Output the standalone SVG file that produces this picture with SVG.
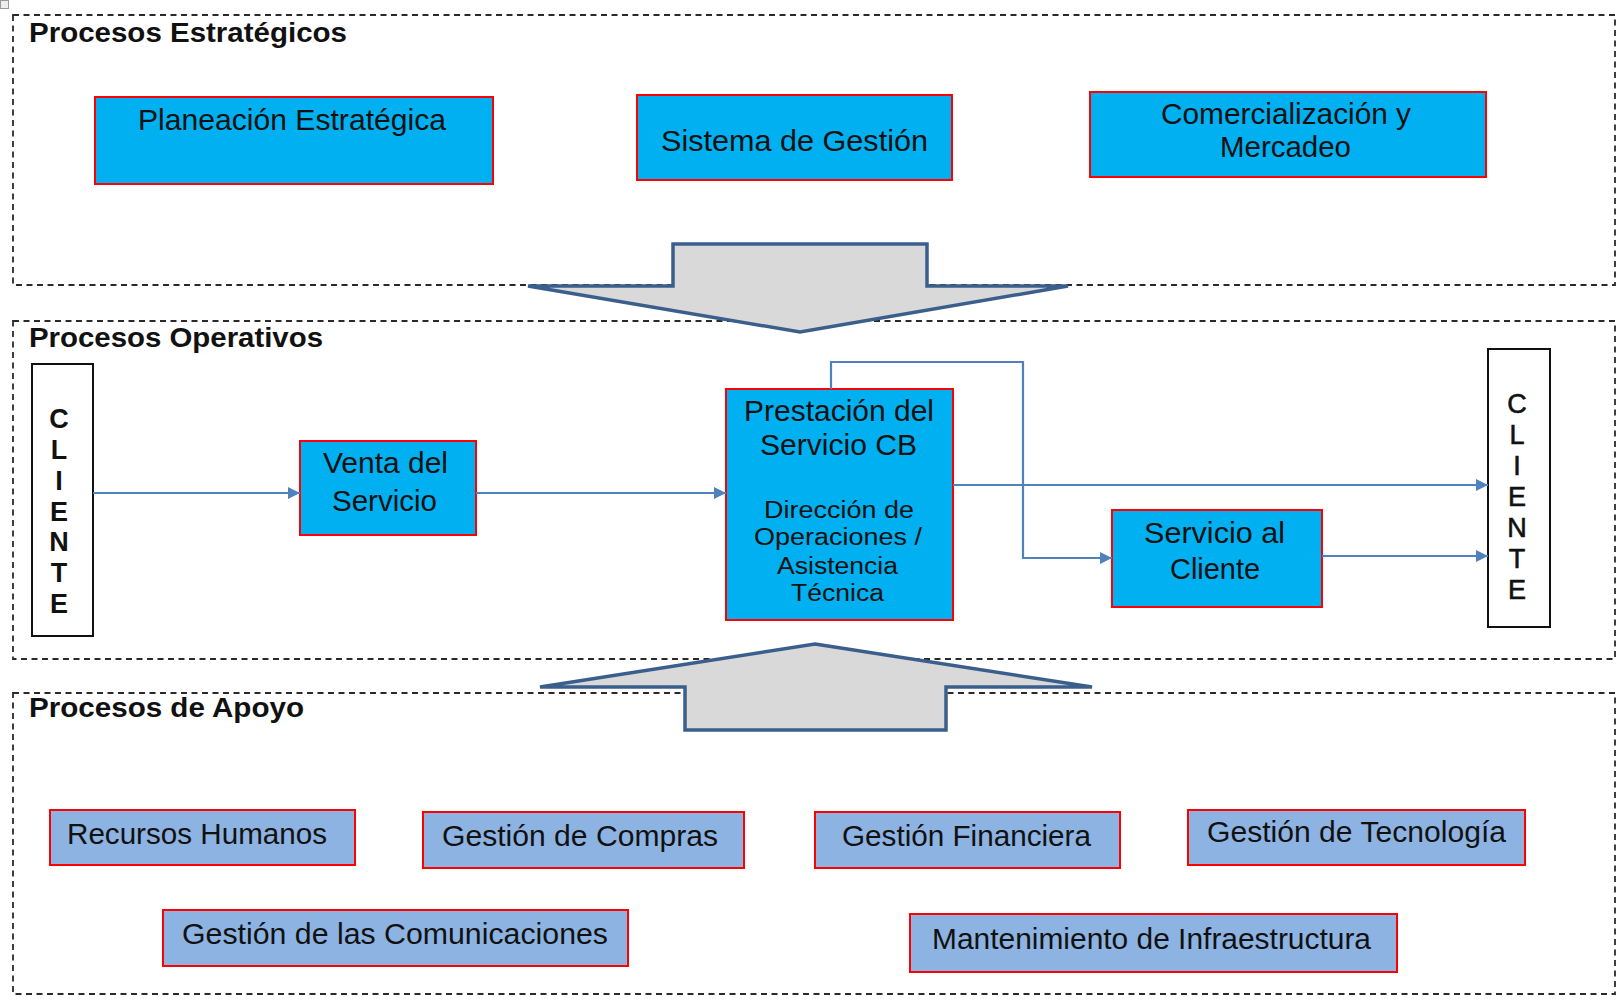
<svg xmlns="http://www.w3.org/2000/svg" width="1618" height="1005" viewBox="0 0 1618 1005">
  <style>
    .zone { fill: none; stroke: #2a2a2a; stroke-width: 1.8; stroke-dasharray: 6 4.5; }
    .ztitle { font-family: "Liberation Sans", Arial, sans-serif; font-weight: bold; font-size: 27px; fill: #111; }
    .main { fill: #00B0F0; stroke: #FF0000; stroke-width: 2; }
    .support { fill: #8DB3E2; stroke: #FF0000; stroke-width: 2; }
    .client { fill: #fff; stroke: #111; stroke-width: 2; }
    .lbl { font-family: "Liberation Sans", Arial, sans-serif; font-size: 30px; fill: #111; }
    .sub { font-family: "Liberation Sans", Arial, sans-serif; font-size: 23px; fill: #111; }
    .cl { font-family: "Liberation Sans", Arial, sans-serif; font-size: 27px; fill: #111; text-anchor: middle; }
    .big { fill: #D9D9D9; stroke: #3A5F8C; stroke-width: 3.5; stroke-linejoin: miter; }
    .link { fill: none; stroke: #4F81BD; stroke-width: 2.2; marker-end: url(#tip); }
  </style>
  <defs>
    <marker id="tip" viewBox="0 0 10 10" refX="10" refY="5" markerWidth="14" markerHeight="12" markerUnits="userSpaceOnUse" orient="auto">
      <path d="M0,0 L10,5 L0,10 z" fill="#4F81BD"/>
    </marker>
  </defs>

  <rect width="1618" height="1005" fill="#fff"/>
  <rect x="0.5" y="0.5" width="8" height="8" fill="#eee" stroke="#999" stroke-width="1"/>

  <!-- process zones -->
  <g id="zones">
    <rect class="zone" x="13" y="15" width="1602" height="270"/>
    <rect class="zone" x="13" y="321" width="1602" height="338"/>
    <rect class="zone" x="13" y="693" width="1602" height="301"/>
    <text class="ztitle" x="29" y="42" textLength="318" lengthAdjust="spacingAndGlyphs">Procesos Estratégicos</text>
    <text class="ztitle" x="29" y="347" textLength="294" lengthAdjust="spacingAndGlyphs">Procesos Operativos</text>
    <text class="ztitle" x="29" y="717" textLength="275" lengthAdjust="spacingAndGlyphs">Procesos de Apoyo</text>
  </g>

  <!-- block arrows between zones -->
  <g id="flow-down">
    <polygon class="big" points="673,244 927,244 927,286 1068,286 800,332 528,286 673,286"/>
  </g>
  <g id="flow-up">
    <polygon class="big" points="815,644 1092,687 946,687 946,730 685,730 685,687 540,687"/>
  </g>

  <!-- strategic processes -->
  <g id="planeacion">
    <rect class="main" x="95" y="97" width="398" height="87"/>
    <text class="lbl" x="138" y="130" textLength="308" lengthAdjust="spacingAndGlyphs">Planeación Estratégica</text>
  </g>
  <g id="sistema-gestion">
    <rect class="main" x="637" y="95" width="315" height="85"/>
    <text class="lbl" x="661" y="151" textLength="267" lengthAdjust="spacingAndGlyphs">Sistema de Gestión</text>
  </g>
  <g id="comercializacion">
    <rect class="main" x="1090" y="92" width="396" height="85"/>
    <text class="lbl" x="1161" y="124" textLength="250" lengthAdjust="spacingAndGlyphs">Comercialización y</text>
    <text class="lbl" x="1220" y="157" textLength="131" lengthAdjust="spacingAndGlyphs">Mercadeo</text>
  </g>

  <!-- operative processes -->
  <g id="cliente-entrada">
    <rect class="client" x="32" y="364" width="61" height="272"/>
    <g font-weight="bold">
      <text class="cl" x="59" y="428">C</text>
      <text class="cl" x="59" y="459">L</text>
      <text class="cl" x="59" y="490">I</text>
      <text class="cl" x="59" y="521">E</text>
      <text class="cl" x="59" y="551">N</text>
      <text class="cl" x="59" y="582">T</text>
      <text class="cl" x="59" y="613">E</text>
    </g>
  </g>
  <g id="venta">
    <rect class="main" x="300" y="441" width="176" height="94"/>
    <text class="lbl" x="323" y="473" textLength="125" lengthAdjust="spacingAndGlyphs">Venta del</text>
    <text class="lbl" x="332" y="511" textLength="105" lengthAdjust="spacingAndGlyphs">Servicio</text>
  </g>
  <g id="prestacion">
    <rect class="main" x="726" y="389" width="227" height="231"/>
    <text class="lbl" x="744" y="421" textLength="190" lengthAdjust="spacingAndGlyphs">Prestación del</text>
    <text class="lbl" x="760" y="455" textLength="157" lengthAdjust="spacingAndGlyphs">Servicio CB</text>
    <text class="sub" x="764" y="518" textLength="150" lengthAdjust="spacingAndGlyphs">Dirección de</text>
    <text class="sub" x="754" y="545" textLength="168" lengthAdjust="spacingAndGlyphs">Operaciones /</text>
    <text class="sub" x="777" y="574" textLength="121" lengthAdjust="spacingAndGlyphs">Asistencia</text>
    <text class="sub" x="791" y="601" textLength="93" lengthAdjust="spacingAndGlyphs">Técnica</text>
  </g>
  <g id="servicio-cliente">
    <rect class="main" x="1112" y="510" width="210" height="97"/>
    <text class="lbl" x="1144" y="543" textLength="141" lengthAdjust="spacingAndGlyphs">Servicio al</text>
    <text class="lbl" x="1170" y="579" textLength="90" lengthAdjust="spacingAndGlyphs">Cliente</text>
  </g>
  <g id="cliente-salida">
    <rect class="client" x="1488" y="349" width="62" height="278"/>
    <g stroke="#111" stroke-width="0.6">
      <text class="cl" x="1517" y="413">C</text>
      <text class="cl" x="1517" y="444">L</text>
      <text class="cl" x="1517" y="475">I</text>
      <text class="cl" x="1517" y="506">E</text>
      <text class="cl" x="1517" y="537">N</text>
      <text class="cl" x="1517" y="568">T</text>
      <text class="cl" x="1517" y="599">E</text>
    </g>
  </g>

  <!-- connectors -->
  <g id="connectors">
    <path class="link" d="M93,493 H300"/>
    <path class="link" d="M476,493 H726"/>
    <path class="link" d="M831,389 V362 H1023 V558 H1112"/>
    <path class="link" d="M953,485 H1488"/>
    <path class="link" d="M1322,556 H1488"/>
  </g>

  <!-- support processes -->
  <g id="recursos-humanos">
    <rect class="support" x="50" y="810" width="305" height="55"/>
    <text class="lbl" x="67" y="844" textLength="260" lengthAdjust="spacingAndGlyphs">Recursos Humanos</text>
  </g>
  <g id="compras">
    <rect class="support" x="423" y="812" width="321" height="56"/>
    <text class="lbl" x="442" y="846" textLength="276" lengthAdjust="spacingAndGlyphs">Gestión de Compras</text>
  </g>
  <g id="financiera">
    <rect class="support" x="815" y="812" width="305" height="56"/>
    <text class="lbl" x="842" y="846" textLength="249" lengthAdjust="spacingAndGlyphs">Gestión Financiera</text>
  </g>
  <g id="tecnologia">
    <rect class="support" x="1188" y="810" width="337" height="55"/>
    <text class="lbl" x="1207" y="842" textLength="299" lengthAdjust="spacingAndGlyphs">Gestión de Tecnología</text>
  </g>
  <g id="comunicaciones">
    <rect class="support" x="163" y="910" width="465" height="56"/>
    <text class="lbl" x="182" y="944" textLength="426" lengthAdjust="spacingAndGlyphs">Gestión de las Comunicaciones</text>
  </g>
  <g id="infraestructura">
    <rect class="support" x="910" y="914" width="487" height="58"/>
    <text class="lbl" x="932" y="949" textLength="439" lengthAdjust="spacingAndGlyphs">Mantenimiento de Infraestructura</text>
  </g>
</svg>
